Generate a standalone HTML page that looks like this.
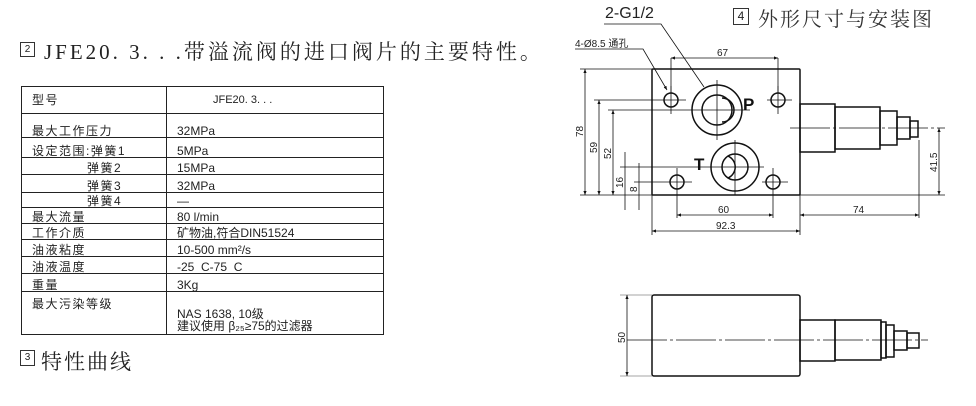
<!DOCTYPE html>
<html><head><meta charset="utf-8"><style>
body{margin:0;width:976px;height:406px;background:#fff;overflow:hidden;position:relative;font-family:"Liberation Sans","Noto Sans CJK SC",sans-serif;color:#222}
.a{position:absolute;white-space:nowrap}
.box{position:absolute;border:1px solid #333;font-size:10px;text-align:center;line-height:13px}
table{position:absolute;left:21px;top:86px;border-collapse:collapse;font-size:12px;table-layout:fixed;width:362px}
td{border:1px solid #222;padding:0 0 0 10px;vertical-align:bottom;line-height:12px;overflow:hidden;white-space:nowrap}
td:first-child{letter-spacing:1.5px}
</style></head><body>
<div class="box" style="left:20px;top:42px;width:13px;height:13px">2</div>
<div class="a" style="left:44px;top:36px;font-size:21px;font-family:'Liberation Serif','Noto Serif CJK SC',serif;letter-spacing:3px">JFE20. 3. . .带溢流阀的进口阀片的主要特性。</div>
<table>
<colgroup><col style="width:145px"><col style="width:217px"></colgroup>
<tr style="height:27px"><td style="vertical-align:middle">型号</td><td style="padding-left:46px;vertical-align:middle;font-size:11px">JFE20. 3. . .</td></tr>
<tr style="height:24px"><td>最大工作压力</td><td>32MPa</td></tr>
<tr style="height:20px"><td>设定范围:弹簧1</td><td>5MPa</td></tr>
<tr style="height:17px"><td style="padding-left:65px">弹簧2</td><td>15MPa</td></tr>
<tr style="height:18px"><td style="padding-left:65px">弹簧3</td><td>32MPa</td></tr>
<tr style="height:15px"><td style="padding-left:65px">弹簧4</td><td>—</td></tr>
<tr style="height:16px"><td>最大流量</td><td>80 l/min</td></tr>
<tr style="height:16px"><td>工作介质</td><td>矿物油,符合DIN51524</td></tr>
<tr style="height:17px"><td>油液粘度</td><td>10-500 mm²/s</td></tr>
<tr style="height:17px"><td>油液温度</td><td>-25 &nbsp;C-75 &nbsp;C</td></tr>
<tr style="height:18px"><td>重量</td><td>3Kg</td></tr>
<tr style="height:43px"><td style="vertical-align:top;padding-top:6px">最大污染等级</td><td style="padding-bottom:2px">NAS 1638, 10级<br>建议使用 β₂₅≥75的过滤器</td></tr>
</table>
<div class="box" style="left:20px;top:350px;width:13px;height:14px">3</div>
<div class="a" style="left:41px;top:346px;font-size:21px;font-family:'Liberation Serif','Noto Serif CJK SC',serif;letter-spacing:2px">特性曲线</div>
<div class="box" style="left:733px;top:8px;width:14px;height:15px;font-size:12px;line-height:15px">4</div>
<div class="a" style="left:758px;top:3px;font-size:20px;font-family:'Liberation Serif','Noto Serif CJK SC',serif;letter-spacing:2px;color:#333">外形尺寸与安装图</div>
<div class="a" style="left:605px;top:5px;font-size:16px">2-G1/2</div>
<div class="a" style="left:575px;top:35px;font-size:10px">4-Ø8.5 通孔</div>
<svg width="976" height="406" style="position:absolute;left:0;top:0" fill="none" stroke="#111" font-family="Liberation Sans" >
<defs><marker id="m" markerWidth="6" markerHeight="6" refX="5" refY="3" orient="auto-start-reverse"><path d="M0,1 L5,3 L0,5z" fill="#111" stroke="none"/></marker></defs>
<g stroke-width="1.5">
<rect x="652" y="69" width="148" height="126" rx="1"/>
<circle cx="671" cy="100" r="7"/><circle cx="778" cy="100" r="7"/>
<circle cx="677" cy="182" r="7"/><circle cx="773" cy="182" r="7"/>
<circle cx="717" cy="110" r="25"/><circle cx="717" cy="110" r="15"/><path d="M722,98 A12,12 0 0 1 722,122"/>
<circle cx="735" cy="167" r="24"/><circle cx="735" cy="167" r="13"/><path d="M728,156 A12,12 0 0 1 728,178"/>
<rect x="800" y="104" width="35" height="48"/><rect x="835" y="107" width="45" height="42"/>
<rect x="880" y="111" width="17" height="34"/><rect x="897" y="117" width="13" height="22"/><rect x="910" y="121" width="8" height="16"/>
<rect x="652" y="295" width="148" height="81" rx="2"/>
<rect x="800" y="320" width="35" height="41"/><rect x="835" y="320" width="46" height="40"/>
<rect x="881" y="322" width="5" height="36"/><rect x="886" y="325" width="8" height="32"/><rect x="894" y="331" width="13" height="19"/><rect x="907" y="333" width="12" height="15"/>
</g>
<text x="743" y="110" font-size="17" font-weight="bold" fill="#111" stroke="none">P</text>
<text x="694" y="170" font-size="17" font-weight="bold" fill="#111" stroke="none">T</text>
<g stroke-width="0.8">
<path d="M604,24H661L704,87M575,49H643L667,90" marker-end="url(#m)"/>
<path d="M660,100H686M767,100H792M671,86V114M778,86V114M663,182H692M762,182H788M677,168V196M773,168V196"/>
<path d="M666,110H750M717,80V140M640,167H764M735,140V195"/>
<path d="M790,128H945" stroke-dasharray="40,3,3,3"/>
<path d="M627,340H928" stroke-dasharray="40,3,3,3"/>
<path d="M671,58V93M778,58V93"/><path d="M671,58H778" marker-start="url(#m)" marker-end="url(#m)"/>
<path d="M580,69H652M580,195H652M594,100H660M608,110H666M620,167H640M634,182H663"/>
<path d="M585,69V195" marker-start="url(#m)" marker-end="url(#m)"/>
<path d="M599,100V195" marker-start="url(#m)" marker-end="url(#m)"/>
<path d="M613,110V195" marker-start="url(#m)" marker-end="url(#m)"/>
<path d="M625,152V210M639,163V210"/>
<path d="M652,195V235M800,195V235M677,196V218M773,196V218M919,140V218M800,195H945"/>
<path d="M677,215H773" marker-start="url(#m)" marker-end="url(#m)"/>
<path d="M652,231H800" marker-start="url(#m)" marker-end="url(#m)"/>
<path d="M800,215H919" marker-start="url(#m)" marker-end="url(#m)"/>
<path d="M939,128V195" marker-start="url(#m)" marker-end="url(#m)"/>
<path d="M620,295H652M620,376H652" stroke="#888"/>
<path d="M627,295V376" marker-start="url(#m)" marker-end="url(#m)"/>
</g>
<g fill="#222" stroke="none" font-size="10">
<text x="717" y="56">67</text><text x="718" y="213">60</text><text x="716" y="229">92.3</text><text x="853" y="213">74</text>
<text transform="translate(583,137) rotate(-90)">78</text><text transform="translate(597,153) rotate(-90)">59</text>
<text transform="translate(611,159) rotate(-90)">52</text><text transform="translate(623,188) rotate(-90)">16</text>
<text transform="translate(637,192) rotate(-90)">8</text><text transform="translate(937,172) rotate(-90)">41.5</text>
<text transform="translate(625,343) rotate(-90)">50</text>
</g>
</svg>
</body></html>
